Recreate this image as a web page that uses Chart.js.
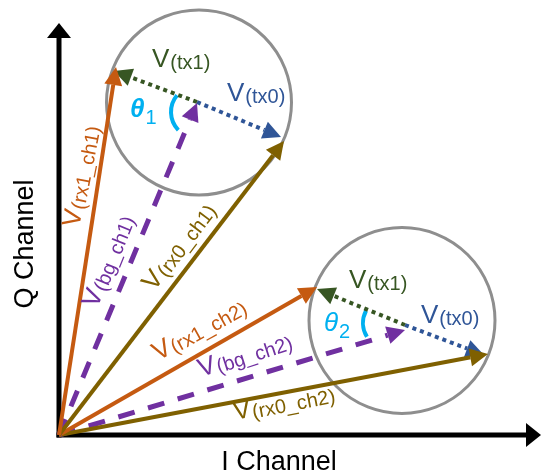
<!DOCTYPE html>
<html>
<head>
<meta charset="utf-8">
<script src="https://cdn.jsdelivr.net/npm/chart.js@4.4.1/dist/chart.umd.min.js"></script>
<style>
  html, body { margin: 0; padding: 0; background: #fff; }
  #wrap { width: 541px; height: 475px; position: relative; }
</style>
</head>
<body>
<div id="wrap"><canvas id="chart"></canvas></div>
<script>
// I/Q values (1 unit = 10 px, origin at the axes corner)
const vectorNames = ['rx1_ch1', 'rx0_ch1', 'bg_ch1', 'tx1_ch1', 'tx0_ch1',
                     'rx1_ch2', 'rx0_ch2', 'bg_ch2', 'tx1_ch2', 'tx0_ch2'];
const startI = [0, 0, 0, 13.8, 13.8, 0, 0, 0, 34.6, 34.6];
const startQ = [0, 0, 0, 33.3, 33.3, 0, 0, 0, 11.0, 11.0];
const endI = [5.7, 22.5, 13.8, 5.5, 22.2, 25.8, 42.9, 34.6, 25.8, 42.5];
const endQ = [36.8, 29.4, 33.2, 36.4, 29.8, 14.8, 8.1, 10.5, 14.6, 8.0];

const axisMaxI = 48.2;
const axisMaxQ = 41.2;

const circleI = [14.0, 34.3];
const circleQ = [33.25, 11.45];
const circleR = [9.25, 9.3];

const thetaNames = ['1', '2'];
const arcI = [13.8, 33.0];
const arcQ = [32.3, 11.2];
const arcR = [2.6, 2.6];
const arcFrom = [136, 148];
const arcTo = [220, 208];

// vector labels
const labelSubs = ['rx1_ch1', 'rx0_ch1', 'bg_ch1', 'tx1', 'tx0',
                   'rx1_ch2', 'rx0_ch2', 'bg_ch2', 'tx1', 'tx0'];
const labelI = [2.0, 9.5, 3.8, 9.3, 16.8, 9.9, 17.6, 14.2, 29.0, 36.2];
const labelQ = [20.7, 14.3, 12.6, 36.8, 33.4, 7.4, 1.5, 5.8, 14.7, 11.2];
const labelAngle = [-79, -53, -68, 0, 0, -29, -11, -18, 0, 0];

const thetaI = [7.1, 26.5];
const thetaQ = [31.8, 10.4];

const kindColor = { rx1: '#C55A11', rx0: '#7F6000', bg: '#7030A0', tx1: '#375623', tx0: '#2F5597' };
const kindWidth = { rx1: 4, rx0: 4, bg: 5, tx1: 4, tx0: 4 };
const kindDash = { rx1: [], rx0: [], bg: [17, 14], tx1: [4, 4], tx0: [4, 4] };
const FONT = '"Liberation Sans", Arial, sans-serif';

const datasets = vectorNames.map((name, i) => {
  const kind = name.split('_')[0];
  return {
    label: name,
    data: [{ x: startI[i], y: startQ[i] }, { x: endI[i], y: endQ[i] }],
    borderColor: kindColor[kind],
    borderWidth: kindWidth[kind],
    borderDash: kindDash[kind],
    arrowLen: 18,
    arrowHalf: 9,
  };
});

// the two axes, drawn as vectors too
datasets.push({
  label: 'I',
  data: [{ x: -0.25, y: 0 }, { x: axisMaxI, y: 0 }],
  borderColor: '#000', borderWidth: 5, borderDash: [],
  arrowLen: 15, arrowHalf: 12,
});
datasets.push({
  label: 'Q',
  data: [{ x: 0, y: -0.25 }, { x: 0, y: axisMaxQ }],
  borderColor: '#000', borderWidth: 5, borderDash: [],
  arrowLen: 15, arrowHalf: 12,
});

function headGeom(meta, ds) {
  const pts = meta.data;
  if (pts.length < 2) return null;
  const a = pts[pts.length - 2], b = pts[pts.length - 1];
  const dx = b.x - a.x, dy = b.y - a.y;
  const len = Math.hypot(dx, dy) || 1;
  const ux = dx / len, uy = dy / len;
  const bx = b.x - ux * ds.arrowLen, by = b.y - uy * ds.arrowLen;
  return { tx: b.x, ty: b.y, ux, uy, bx, by };
}

const arrowPlugin = {
  id: 'arrows',
  beforeDatasetDraw(chart, args) {
    const ds = chart.data.datasets[args.index];
    const g = headGeom(args.meta, ds);
    const ctx = chart.ctx;
    ctx.save();
    if (!g) return;
    // keep the shaft out of the arrow head
    const w = ds.borderWidth + 2;
    const nx = -g.uy, ny = g.ux;
    const ex = g.tx + g.ux * 3, ey = g.ty + g.uy * 3;
    ctx.beginPath();
    ctx.rect(0, 0, chart.width, chart.height);
    ctx.moveTo(g.bx + nx * w, g.by + ny * w);
    ctx.lineTo(ex + nx * w, ey + ny * w);
    ctx.lineTo(ex - nx * w, ey - ny * w);
    ctx.lineTo(g.bx - nx * w, g.by - ny * w);
    ctx.closePath();
    ctx.clip('evenodd');
  },
  afterDatasetDraw(chart, args) {
    const ctx = chart.ctx;
    ctx.restore();
    const ds = chart.data.datasets[args.index];
    const g = headGeom(args.meta, ds);
    if (!g) return;
    const nx = -g.uy, ny = g.ux, h = ds.arrowHalf;
    ctx.save();
    ctx.fillStyle = ds.borderColor;
    ctx.beginPath();
    ctx.moveTo(g.tx, g.ty);
    ctx.lineTo(g.bx + nx * h, g.by + ny * h);
    ctx.lineTo(g.bx - nx * h, g.by - ny * h);
    ctx.closePath();
    ctx.fill();
    ctx.restore();
  },
};

function drawLabel(ctx, x, y, deg, main, sub, color, mainFont, subFont, gap, drop) {
  ctx.save();
  ctx.translate(x, y);
  ctx.rotate(deg * Math.PI / 180);
  ctx.fillStyle = color;
  ctx.textAlign = 'left';
  ctx.textBaseline = 'alphabetic';
  ctx.font = mainFont;
  ctx.fillText(main, 0, 0);
  const w = ctx.measureText(main).width;
  ctx.font = subFont;
  ctx.fillText(sub, w + gap, drop);
  ctx.restore();
}

const decorPlugin = {
  id: 'decor',
  beforeDatasetsDraw(chart) {
    const { ctx, scales: { x, y } } = chart;
    const unit = x.getPixelForValue(1) - x.getPixelForValue(0);
    ctx.save();
    ctx.strokeStyle = '#8E8E8E';
    ctx.lineWidth = 3;
    circleI.forEach((ci, i) => {
      ctx.beginPath();
      ctx.arc(x.getPixelForValue(ci), y.getPixelForValue(circleQ[i]), circleR[i] * unit, 0, Math.PI * 2);
      ctx.stroke();
    });
    ctx.strokeStyle = '#00B0F0';
    ctx.lineWidth = 4;
    arcI.forEach((ai, i) => {
      ctx.beginPath();
      ctx.arc(x.getPixelForValue(ai), y.getPixelForValue(arcQ[i]), arcR[i] * unit,
        arcFrom[i] * Math.PI / 180, arcTo[i] * Math.PI / 180, false);
      ctx.stroke();
    });
    ctx.restore();
  },
  afterDraw(chart) {
    const { ctx, scales: { x, y } } = chart;
    vectorNames.forEach((name, i) => {
      const kind = name.split('_')[0];
      drawLabel(ctx, x.getPixelForValue(labelI[i]), y.getPixelForValue(labelQ[i]), labelAngle[i],
        'V', '(' + labelSubs[i] + ')', kindColor[kind], '26px ' + FONT, '20px ' + FONT, 1, 2);
    });
    thetaNames.forEach((t, i) => {
      drawLabel(ctx, x.getPixelForValue(thetaI[i]), y.getPixelForValue(thetaQ[i]), 0,
        '\u03B8', t, '#00B0F0', (i === 0 ? 'bold italic ' : 'italic ') + '26px ' + FONT,
        '20px ' + FONT, 1, 7);
    });
    // axis titles
    ctx.save();
    ctx.fillStyle = '#000';
    ctx.font = '27px ' + FONT;
    ctx.textAlign = 'center';
    ctx.textBaseline = 'alphabetic';
    ctx.fillText('I Channel', 279, 470);
    ctx.translate(33, 244);
    ctx.rotate(-Math.PI / 2);
    ctx.fillText('Q Channel', 0, 0);
    ctx.restore();
  },
};

new Chart(document.getElementById('chart'), {
  type: 'scatter',
  data: { datasets },
  options: {
    responsive: true,
    maintainAspectRatio: false,
    animation: false,
    events: [],
    clip: false,
    layout: { padding: { left: 59, right: 0, top: 23, bottom: 40 } },
    elements: {
      point: { radius: 0, hoverRadius: 0 },
      line: { tension: 0, fill: false, borderCapStyle: 'butt' },
    },
    datasets: { scatter: { showLine: true } },
    plugins: { legend: { display: false }, tooltip: { enabled: false } },
    scales: {
      x: { type: 'linear', min: 0, max: axisMaxI, display: false },
      y: { type: 'linear', min: 0, max: axisMaxQ, display: false },
    },
  },
  plugins: [arrowPlugin, decorPlugin],
});
</script>
</body>
</html>
